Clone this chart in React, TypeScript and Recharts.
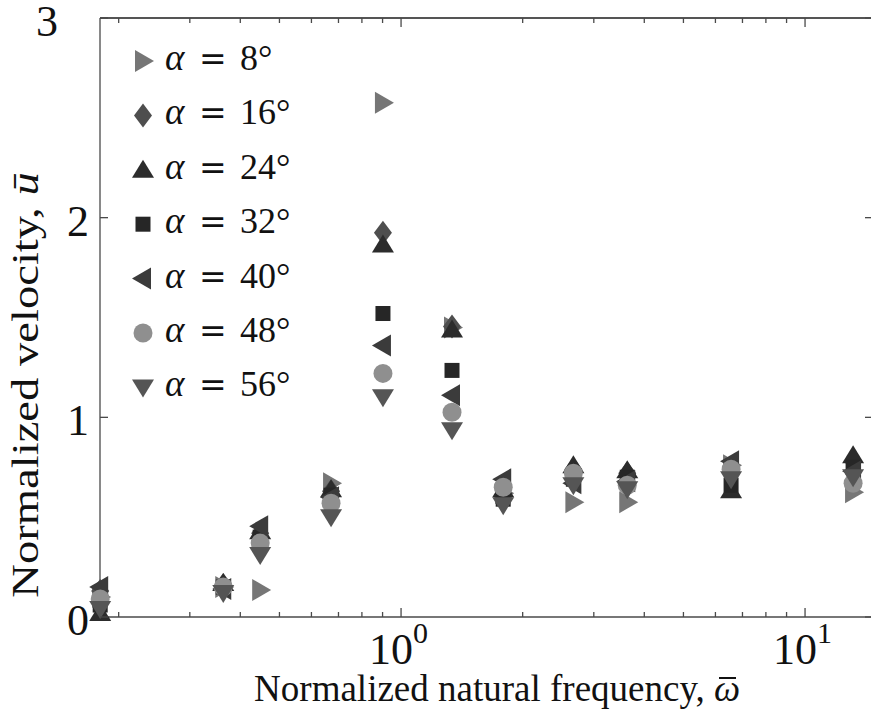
import { ScatterChart, Scatter, XAxis, YAxis, ReferenceLine } from 'recharts';

// normalized natural frequency (x) for every test
const omega = [0.18, 0.363, 0.448, 0.671, 0.902, 1.337, 1.79, 2.67, 3.63, 6.56, 13.15];

// normalized velocity per angle of attack
const u8 = [0.1, 0.15, 0.135, 0.67, 2.575, 1.45, 0.62, 0.575, 0.575, 0.76, 0.625];
const u16 = [0.13, 0.16, 0.42, 0.63, 1.925, 1.455, 0.6, 0.74, 0.72, 0.72, 0.78];
const u24 = [0.02, 0.17, 0.43, 0.64, 1.865, 1.44, 0.64, 0.76, 0.735, 0.635, 0.81];
const u32 = [0.06, 0.15, 0.4, 0.61, 1.52, 1.235, 0.59, 0.69, 0.7, 0.66, 0.75];
const u40 = [0.15, 0.14, 0.455, 0.6, 1.36, 1.11, 0.69, 0.67, 0.68, 0.78, 0.73];
const u48 = [0.09, 0.15, 0.37, 0.57, 1.22, 1.025, 0.65, 0.72, 0.66, 0.74, 0.67];
const u56 = [0.04, 0.12, 0.31, 0.5, 1.1, 0.935, 0.56, 0.66, 0.64, 0.69, 0.7];

const angles = ['8', '16', '24', '32', '40', '48', '56'];

const xTicks = [0.2, 0.3, 0.4, 0.5, 0.6, 0.7, 0.8, 0.9, 1, 2, 3, 4, 5, 6, 7, 8, 9, 10];
const yTicks = [0, 1, 2, 3];

type Kind = 'right' | 'diamond' | 'up' | 'square' | 'left' | 'circle' | 'down';

const series: { values: number[]; kind: Kind; color: string }[] = [
  { values: u8, kind: 'right', color: '#767676' },
  { values: u16, kind: 'diamond', color: '#4e4e4e' },
  { values: u24, kind: 'up', color: '#2c2c2c' },
  { values: u32, kind: 'square', color: '#262626' },
  { values: u40, kind: 'left', color: '#3b3b3b' },
  { values: u48, kind: 'circle', color: '#8f8f8f' },
  { values: u56, kind: 'down', color: '#555555' },
];

const FONT = '"Liberation Serif", "DejaVu Serif", serif';
const AXIS = '#4a4a4a';

function Marker({ kind, cx, cy, fill }: { kind: Kind; cx: number; cy: number; fill: string }) {
  if (cx == null || cy == null) return null;
  switch (kind) {
    case 'right':
      return <polygon points={`${cx - 8},${cy - 11} ${cx + 11},${cy} ${cx - 8},${cy + 11}`} fill={fill} />;
    case 'left':
      return <polygon points={`${cx + 8},${cy - 11} ${cx - 11},${cy} ${cx + 8},${cy + 11}`} fill={fill} />;
    case 'up':
      return <polygon points={`${cx},${cy - 10} ${cx + 11},${cy + 8} ${cx - 11},${cy + 8}`} fill={fill} />;
    case 'down':
      return <polygon points={`${cx - 11},${cy - 8} ${cx + 11},${cy - 8} ${cx},${cy + 10}`} fill={fill} />;
    case 'diamond':
      return <polygon points={`${cx},${cy - 12} ${cx + 9},${cy} ${cx},${cy + 12} ${cx - 9},${cy}`} fill={fill} />;
    case 'square':
      return <rect x={cx - 7.5} y={cy - 7.5} width={15} height={15} fill={fill} />;
    default:
      return <circle cx={cx} cy={cy} r={9.5} fill={fill} />;
  }
}

function BottomTick({ x, y, payload }: any) {
  const v = payload.value;
  const major = v === 1 || v === 10;
  return (
    <g>
      <line x1={x} x2={x} y1={y} y2={y - (major ? 9 : 5)} stroke={AXIS} strokeWidth={1.3} />
      {major && (
        <text x={x - 32} y={y + 47} fontSize={44} fontFamily={FONT} fill="#111">
          10
          <tspan dy={-21} fontSize={30}>{v === 1 ? '0' : '1'}</tspan>
        </text>
      )}
    </g>
  );
}

function TopTick({ x, y, payload }: any) {
  const major = payload.value === 1 || payload.value === 10;
  return <line x1={x} x2={x} y1={y} y2={y + (major ? 9 : 5)} stroke={AXIS} strokeWidth={1.3} />;
}

function LeftTick({ x, y, payload }: any) {
  const v = payload.value;
  // the top label sits further out in the original figure
  const lx = v === 3 ? x - 42 : x - 11;
  return (
    <g>
      <line x1={x} x2={x + 8} y1={y} y2={y} stroke={AXIS} strokeWidth={1.3} />
      <text x={lx} y={v === 3 ? y + 18 : y + 18} textAnchor="end" fontSize={44} fontFamily={FONT} fill="#111">
        {v}
      </text>
    </g>
  );
}

function RightTick({ x, y }: any) {
  return <line x1={x} x2={x - 8} y1={y} y2={y} stroke={AXIS} strokeWidth={1.3} />;
}

function LegendBox() {
  return (
    <svg width={220} height={400} style={{ position: 'absolute', left: 120, top: 30 }}>
      {series.map((s, i) => {
        const cy = 31 + i * 54.4;
        return (
          <g key={angles[i]} fill="#111">
            <Marker kind={s.kind} cx={23} cy={cy} fill={s.color} />
            <text x={45} y={cy + 9} fontSize={37} fontFamily={FONT} fontStyle="italic">α</text>
            <text x={79} y={cy + 9} fontSize={33} fontFamily='"DejaVu Serif", serif'>=</text>
            <text x={120} y={cy + 9} fontSize={36} fontFamily={FONT}>{angles[i]}°</text>
          </g>
        );
      })}
    </svg>
  );
}

function XLabel() {
  const end = 714;
  const base = 701;
  return (
    <g fontFamily={FONT} fontSize={37} fill="#111">
      <text x={end} y={base} textAnchor="end">
        Normalized natural frequency,{'\u00a0'}
      </text>
      <text x={end} y={base} fontStyle="italic">ω</text>
      <line x1={end + 5} x2={end + 22} y1={base - 23} y2={base - 23} stroke="#111" strokeWidth={2} />
    </g>
  );
}

function YLabel() {
  return (
    <text
      x={0}
      y={0}
      transform="translate(38, 385) rotate(-90) scale(1.26, 1)"
      textAnchor="middle"
      fontSize={37}
      fontFamily={FONT}
      fill="#111"
    >
      Normalized velocity, <tspan fontStyle="italic">ū</tspan>
    </text>
  );
}

export default function App() {
  return (
    <div style={{ position: 'absolute', left: 0, top: 0, background: '#fff', width: 871, height: 711, overflow: 'hidden' }}>
      <ScatterChart width={874} height={711} margin={{ top: 17, right: 0, bottom: 0, left: 0 }}>
        <XAxis
          dataKey="w"
          type="number"
          scale="log"
          domain={[0.1798, 14.73]}
          ticks={xTicks}
          interval={0}
          height={94}
          tickSize={0}
          tickMargin={0}
          tick={<BottomTick />}
          axisLine={{ stroke: AXIS, strokeWidth: 1.3 }}
          label={<XLabel />}
        />
        <XAxis
          xAxisId="top"
          dataKey="w"
          orientation="top"
          type="number"
          scale="log"
          domain={[0.1798, 14.73]}
          ticks={xTicks}
          interval={0}
          height={1}
          tickSize={0}
          tickMargin={0}
          tick={<TopTick />}
          axisLine={{ stroke: AXIS, strokeWidth: 1.3 }}
        />
        <YAxis
          dataKey="u"
          type="number"
          domain={[0, 3]}
          ticks={yTicks}
          interval={0}
          width={100}
          tickSize={0}
          tickMargin={0}
          tick={<LeftTick />}
          axisLine={{ stroke: AXIS, strokeWidth: 1.3 }}
          label={<YLabel />}
        />
        <YAxis
          yAxisId="right"
          dataKey="u"
          orientation="right"
          type="number"
          domain={[0, 3]}
          ticks={yTicks}
          interval={0}
          width={1}
          tickSize={0}
          tickMargin={0}
          tick={<RightTick />}
          axisLine={{ stroke: AXIS, strokeWidth: 1.3 }}
        />
        <ReferenceLine y={3} stroke={AXIS} strokeWidth={1.3} ifOverflow="extendDomain" />
        {/* invisible series so the mirrored box axes get a scale */}
        <Scatter
          xAxisId="top"
          yAxisId="right"
          data={omega.map((w, j) => ({ w, u: u8[j] }))}
          isAnimationActive={false}
          legendType="none"
          shape={() => <g />}
        />
        {series.map((s, i) => (
          <Scatter
            key={angles[i]}
            name={`α = ${angles[i]}°`}
            data={omega.map((w, j) => ({ w, u: s.values[j] }))}
            fill={s.color}
            isAnimationActive={false}
            shape={(p: any) => <Marker kind={s.kind} cx={p.cx} cy={p.cy} fill={s.color} />}
          />
        ))}
      </ScatterChart>
      <LegendBox />
    </div>
  );
}
